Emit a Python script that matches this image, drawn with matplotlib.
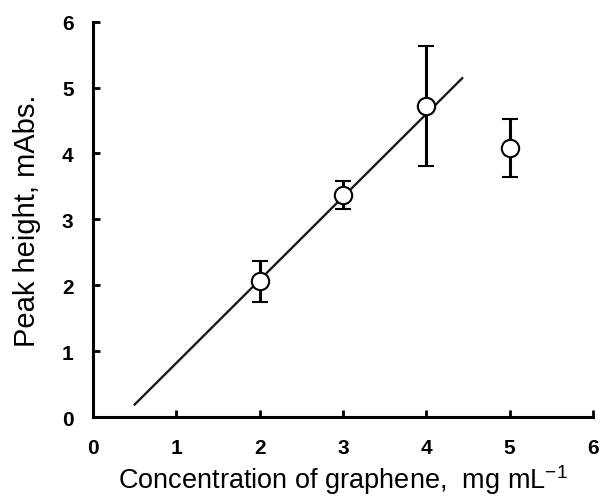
import numpy as np
import matplotlib.pyplot as plt

plt.rcParams['font.family'] = ['Liberation Sans', 'DejaVu Sans']

conc = [2, 3, 4, 5]
peak = [2.06, 3.37, 4.72, 4.09]
err = [0.31, 0.21, 0.91, 0.44]

# calibration line
fit_x = [0.5, 4.43]
slope = 1.26
intercept = -0.44

fig = plt.figure(figsize=(6.14, 5.02), dpi=100)
ax = fig.add_axes([0.1515, 0.1673, 0.8143, 0.7875])

xl = np.array(fit_x)
ax.plot(xl, slope * xl + intercept, color='#1a1a1a', lw=1.7, zorder=2)
ax.errorbar(conc, peak, yerr=err, fmt='o', color='black', mfc='white', mec='black',
            ms=12.5, mew=1.5, elinewidth=2.2, capsize=6, capthick=4, zorder=3)

ax.set_xlim(0, 6)
ax.set_ylim(0, 6)
ax.set_xticks(range(7))
ax.set_yticks(range(7))
for s in ['top', 'right']:
    ax.spines[s].set_visible(False)
for s in ['left', 'bottom']:
    ax.spines[s].set_linewidth(2.2)
ax.tick_params(direction='in', length=5, width=2, labelsize=15)
ax.tick_params(axis='x', pad=15)
ax.tick_params(axis='y', pad=14)
for lab in ax.get_xticklabels() + ax.get_yticklabels():
    lab.set_fontweight('bold')

ax.set_xlabel('Concentration of graphene,  mg mL$^{\\mathregular{-1}}$', fontsize=19.5, labelpad=4)
ax.set_ylabel('Peak height, mAbs.', fontsize=21, labelpad=15)

fig.savefig('out.png', dpi=100)
